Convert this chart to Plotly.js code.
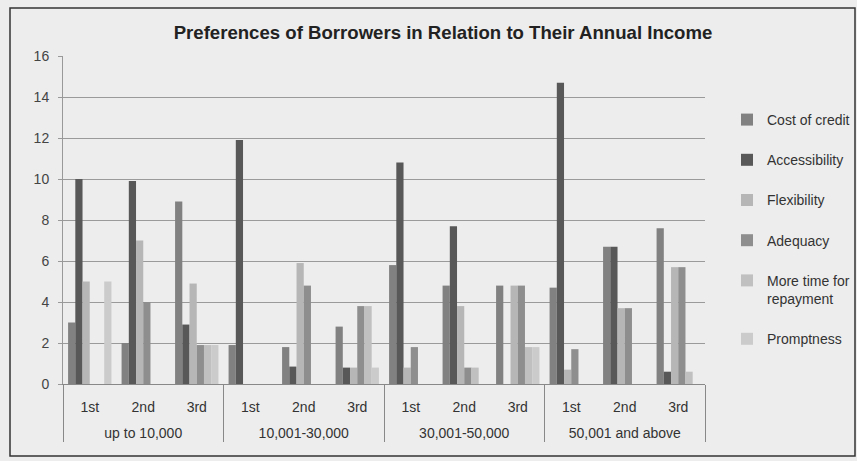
<!DOCTYPE html>
<html>
<head>
<meta charset="utf-8">
<script src="https://cdn.plot.ly/plotly-3.0.1.min.js"></script>
<style>
  html, body { margin: 0; padding: 0; background: #ededed; }
  #chart { width: 857px; height: 461px; }
</style>
</head>
<body>
<div id="chart"></div>
<script>
// ---- Data ----
const incomeGroups = ['up to 10,000', '10,001-30,000', '30,001-50,000', '50,001 and above'];
const ranks = ['1st', '2nd', '3rd'];
const seriesNames = ['Cost of credit', 'Accessibility', 'Flexibility', 'Adequacy', 'More time for<br>repayment', 'Promptness'];

const costOfCredit  = [3, 2, 8.9,   1.9, 1.8, 2.8,   5.8, 4.8, 4.8,   4.7, 6.7, 7.6];
const accessibility = [10, 9.9, 2.9, 11.9, 0.85, 0.8, 10.8, 7.7, 0,    14.7, 6.7, 0.6];
const flexibility   = [5, 7, 4.9,   0, 5.9, 0.8,     0.8, 3.8, 4.8,   0.7, 3.7, 5.7];
const adequacy      = [0, 4, 1.9,   0, 4.8, 3.8,     1.8, 0.8, 4.8,   1.7, 3.7, 5.7];
const moreTime      = [0, 0, 1.9,   0, 0, 3.8,       0, 0.8, 1.8,     0, 0, 0.6];
const promptness    = [5, 0, 1.9,   0, 0, 0.8,       0, 0, 1.8,       0, 0, 0];

const yTicks = [0, 2, 4, 6, 8, 10, 12, 14, 16];

// ---- Build ----
const xOuter = [], xInner = [];
incomeGroups.forEach(g => ranks.forEach(r => { xOuter.push('<br>' + g); xInner.push(r); }));

const values = [costOfCredit, accessibility, flexibility, adequacy, moreTime, promptness];
const colors = ['#818181', '#585858', '#b6b6b6', '#8e8e8e', '#c0c0c0', '#cbcbcb'];

const traces = values.map((v, i) => ({
  type: 'bar',
  name: seriesNames[i],
  x: [xOuter, xInner],
  y: v,
  marker: { color: colors[i], line: { width: 0 } },
  legendgroup: 'g' + i,
  hoverinfo: 'skip'
}));

const narrow = '"Liberation Sans Narrow", "Arial Narrow", "Liberation Sans", Arial, sans-serif';
const regular = '"Liberation Sans", Arial, sans-serif';

const L = 63, R = 705, T = 56, B = 384;
const pw = R - L, ph = B - T;
const px = v => (v - L) / pw;
const py = v => (B - v) / ph;

const layout = {
  width: 857, height: 461,
  margin: { l: L, r: 857 - R, t: T, b: 461 - B, pad: 0, autoexpand: false },
  paper_bgcolor: '#ededed',
  plot_bgcolor: '#ededed',
  bargap: 0.19,
  bargroupgap: 0,
  barmode: 'group',
  title: {
    text: '<b>Preferences of Borrowers in Relation to Their Annual Income</b>',
    font: { family: narrow, size: 18.6, color: '#222' },
    xref: 'container', x: 443 / 857, xanchor: 'center',
    yref: 'container', y: 1 - 32 / 461, yanchor: 'middle'
  },
  xaxis: {
    type: 'multicategory',
    showline: true, linecolor: '#888', linewidth: 1,
    showdividers: true, dividercolor: '#888', dividerwidth: 1,
    ticks: '', ticklabelstandoff: 10,
    tickfont: { family: narrow, size: 14, color: '#333' },
    showgrid: false
  },
  yaxis: {
    range: [0, 16],
    tickvals: yTicks,
    ticktext: yTicks.map(String),
    showgrid: true, gridcolor: '#9a9a9a', gridwidth: 1,
    showline: true, linecolor: '#999', linewidth: 1,
    ticks: 'outside', ticklen: 4, tickcolor: '#999',
    ticklabelstandoff: 6,
    tickfont: { family: regular, size: 14, color: '#444' },
    zeroline: false
  },
  legend: {
    x: px(727), xanchor: 'left',
    y: py(104), yanchor: 'top',
    font: { family: regular, size: 14, color: '#333' },
    bgcolor: 'rgba(0,0,0,0)',
    traceorder: 'grouped',
    tracegroupgap: 19,
    valign: 'top',
    itemclick: false
  },
  shapes: [
    { type: 'rect', xref: 'paper', yref: 'paper',
      x0: px(10), x1: px(855), y0: py(456), y1: py(8),
      line: { color: '#333', width: 1.5 }, fillcolor: 'rgba(0,0,0,0)', layer: 'above' }
  ],
  showlegend: true
};

Plotly.newPlot('chart', traces, layout, { displayModeBar: false, staticPlot: true });
</script>
</body>
</html>
